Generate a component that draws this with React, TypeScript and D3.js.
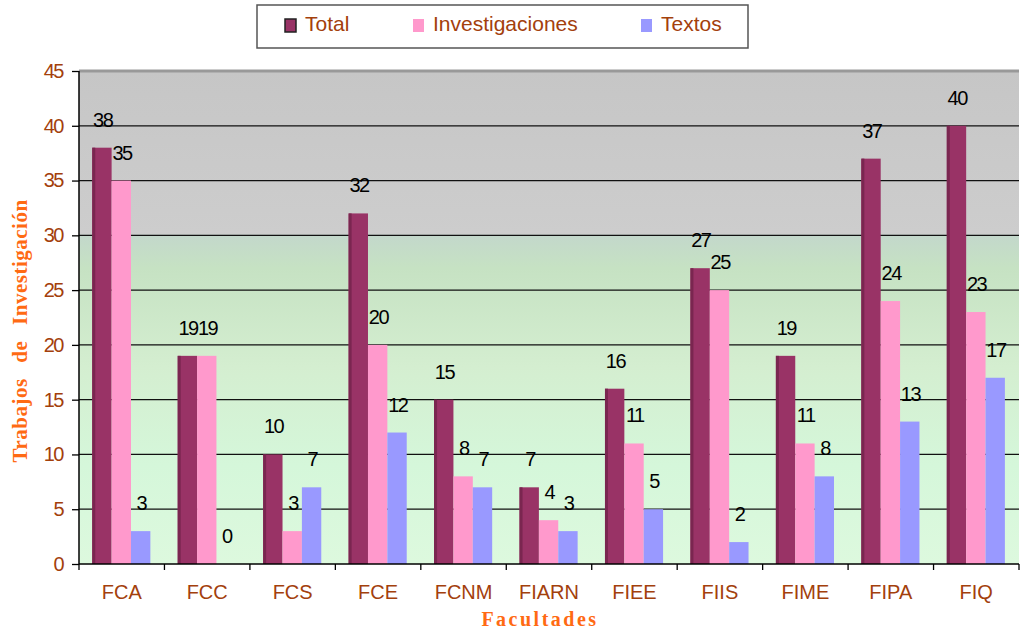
import React, { useEffect, useRef } from "react";
import * as d3 from "d3";

const categories = ["FCA", "FCC", "FCS", "FCE", "FCNM", "FIARN", "FIEE", "FIIS", "FIME", "FIPA", "FIQ"];
const seriesNames = ["Total", "Investigaciones", "Textos"];
const total = [38, 19, 10, 32, 15, 7, 16, 27, 19, 37, 40];
const investigaciones = [35, 19, 3, 20, 8, 4, 11, 25, 11, 24, 23];
const textos = [3, 0, 7, 12, 7, 3, 5, 2, 8, 13, 17];
const yTicks = [0, 5, 10, 15, 20, 25, 30, 35, 40, 45];

const colors = ["#993366", "#ff99cc", "#9999ff"];
const brown = "#a3400c";
const orange = "#ff6a13";

const W = 1020;
const H = 633;

const BarChart = () => {
  const svgRef = useRef<SVGSVGElement>(null);

  useEffect(() => {
    const svg = d3.select(svgRef.current);
    svg.selectAll("*").remove();

    const margin = { top: 71, right: 1, bottom: 69, left: 79 };
    const width = W - margin.left - margin.right;
    const height = H - margin.top - margin.bottom;

    const rows = categories.map((c, i) => ({
      cat: c,
      values: [total[i], investigaciones[i], textos[i]],
    }));

    const x = d3.scaleBand().domain(categories).range([0, width]).paddingInner(0).paddingOuter(0);
    const x1 = d3
      .scaleBand()
      .domain(seriesNames)
      .range([x.bandwidth() * 0.155, x.bandwidth() * 0.835])
      .padding(0);
    const y = d3.scaleLinear().domain([0, 45]).range([height, 0]);

    // fondo degradado
    const defs = svg.append("defs");
    const grad = defs
      .append("linearGradient")
      .attr("id", "bg")
      .attr("x1", 0)
      .attr("y1", 0)
      .attr("x2", 0)
      .attr("y2", 1);
    [
      [0, "#c6c6c6"],
      [0.33, "#cdcdcd"],
      [0.335, "#c3d8cb"],
      [0.4, "#c6e2c3"],
      [0.6, "#d4eed0"],
      [0.8, "#d5f7da"],
      [1, "#ddf9de"],
    ].forEach(([o, c]) => grad.append("stop").attr("offset", o as number).attr("stop-color", c as string));

    const g = svg.append("g").attr("transform", `translate(${margin.left},${margin.top})`);

    g.append("rect").attr("width", width).attr("height", height).attr("fill", "url(#bg)");
    g.append("line").attr("x1", 0).attr("x2", width).attr("y1", 0).attr("y2", 0).attr("stroke", "#999").attr("stroke-width", 3);

    // líneas de la cuadrícula
    g.selectAll(".grid")
      .data(yTicks.filter((t) => t > 0 && t < 45))
      .enter()
      .append("line")
      .attr("x1", 0)
      .attr("x2", width)
      .attr("y1", (d) => y(d))
      .attr("y2", (d) => y(d))
      .attr("stroke", "#111")
      .attr("stroke-width", 1.3);

    const groups = g
      .selectAll(".grp")
      .data(rows)
      .enter()
      .append("g")
      .attr("transform", (d) => `translate(${x(d.cat)},0)`);

    groups
      .selectAll("rect")
      .data((d) => d.values.map((v, i) => ({ name: seriesNames[i], v, i })))
      .enter()
      .append("rect")
      .attr("x", (d) => x1(d.name)!)
      .attr("y", (d) => y(d.v))
      .attr("width", x1.bandwidth())
      .attr("height", (d) => y(0) - y(d.v))
      .attr("fill", (d) => colors[d.i]);

    // borde oscuro en las barras Total
    groups
      .append("rect")
      .attr("x", x1("Total")!)
      .attr("y", (d) => y(d.values[0]))
      .attr("width", 3)
      .attr("height", (d) => y(0) - y(d.values[0]))
      .attr("fill", "#7a2650");

    groups
      .selectAll("text")
      .data((d) => d.values.map((v, i) => ({ name: seriesNames[i], v })))
      .enter()
      .append("text")
      .attr("x", (d) => x1(d.name)! + x1.bandwidth() / 2 + 0.75)
      .attr("y", (d) => y(d.v) - 21)
      .attr("text-anchor", "middle")
      .attr("font-family", "Liberation Sans, Arial, sans-serif")
      .attr("font-size", 20)
      .attr("letter-spacing", -1.5)
      .attr("fill", "#000")
      .text((d) => d.v);

    // ejes
    const yAxis = g
      .append("g")
      .call(d3.axisLeft(y).tickValues(yTicks).tickSize(7).tickPadding(9));
    yAxis.select(".domain").attr("stroke", "#000").attr("stroke-width", 1.5).attr("d", `M0,${height}V0`);
    yAxis.selectAll(".tick line").attr("stroke", "#000").attr("stroke-width", 1.3);
    yAxis
      .selectAll(".tick text")
      .attr("font-family", "Liberation Sans, Arial, sans-serif")
      .attr("font-size", 20)
      .attr("letter-spacing", -1.5)
      .attr("fill", brown);

    const xAxis = g
      .append("g")
      .attr("transform", `translate(0,${height})`)
      .call(d3.axisBottom(x).tickSize(0).tickPadding(21));
    xAxis.select(".domain").attr("stroke", "#000").attr("stroke-width", 1.5).attr("d", `M0,0H${width}`);
    xAxis
      .selectAll(".tick text")
      .attr("font-family", "Liberation Sans, Arial, sans-serif")
      .attr("font-size", 20)
      .attr("fill", brown);
    xAxis
      .selectAll(".sep")
      .data(d3.range(categories.length + 1))
      .enter()
      .append("line")
      .attr("x1", (i) => i * x.step())
      .attr("x2", (i) => i * x.step())
      .attr("y1", 0)
      .attr("y2", 6)
      .attr("stroke", "#000")
      .attr("stroke-width", 1.3);

    // títulos de ejes
    svg
      .append("text")
      .attr("transform", `translate(27,331) rotate(-90)`)
      .attr("text-anchor", "middle")
      .attr("font-family", "Liberation Serif, Times New Roman, serif")
      .attr("font-weight", "bold")
      .attr("font-size", 21)
      .attr("letter-spacing", 0.5)
      .attr("word-spacing", 10)
      .attr("fill", orange)
      .text("Trabajos de Investigación");

    svg
      .append("text")
      .attr("x", 540)
      .attr("y", 626)
      .attr("text-anchor", "middle")
      .attr("font-family", "Liberation Serif, Times New Roman, serif")
      .attr("font-weight", "bold")
      .attr("font-size", 20)
      .attr("letter-spacing", 2.5)
      .attr("fill", orange)
      .text("Facultades");

    // leyenda
    const legend = svg.append("g");
    legend
      .append("rect")
      .attr("x", 257)
      .attr("y", 5)
      .attr("width", 491)
      .attr("height", 43)
      .attr("fill", "#fff")
      .attr("stroke", "#555")
      .attr("stroke-width", 1.5);
    const legendX = [285, 413, 641];
    seriesNames.forEach((s, i) => {
      legend
        .append("rect")
        .attr("x", legendX[i])
        .attr("y", 19)
        .attr("width", 11)
        .attr("height", 13)
        .attr("fill", colors[i])
        .attr("stroke", i === 0 ? "#222" : "none")
        .attr("stroke-width", 1.5);
      legend
        .append("text")
        .attr("x", legendX[i] + 20)
        .attr("y", 31)
        .attr("font-family", "Liberation Sans, Arial, sans-serif")
        .attr("font-size", 21)
        .attr("fill", brown)
        .text(s);
    });
  }, []);

  return <svg ref={svgRef} width={W} height={H} style={{ position: "absolute", left: 0, top: 0 }}></svg>;
};

export default function App() {
  return <BarChart />;
}
